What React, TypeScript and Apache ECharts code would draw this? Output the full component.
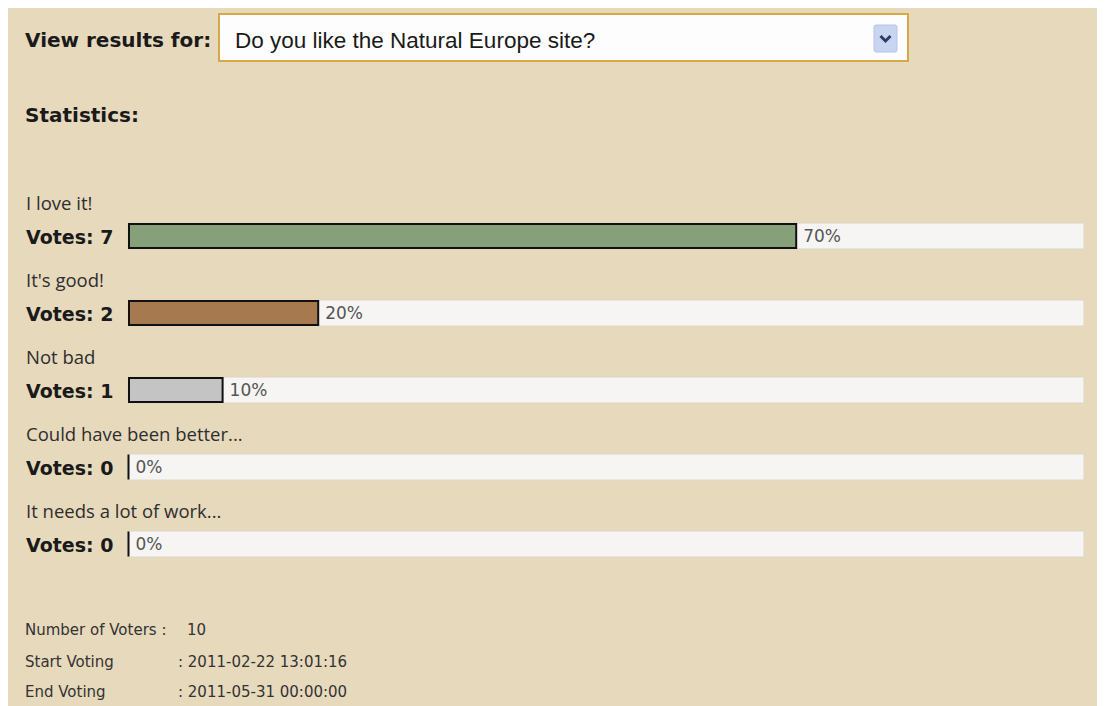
import React, { useEffect, useRef } from "react";
import * as echarts from "echarts";

const answers = ["I love it!", "It's good!", "Not bad", "Could have been better...", "It needs a lot of work..."];
const votes = [7, 2, 1, 0, 0];
const percents = [70, 20, 10, 0, 0];
const barColors = ["#86a079", "#a67a4e", "#c4c4c4", "#c4c4c4", "#c4c4c4"];
const question = "Do you like the Natural Europe site?";
const voterCount = 10;
const startVoting = "2011-02-22 13:01:16";
const endVoting = "2011-05-31 00:00:00";

const BG = "#e7d9bc";

export default function App() {
  const ref = useRef<HTMLDivElement>(null);
  useEffect(() => {
    document.documentElement.style.overflow = "hidden";
    document.body.style.overflow = "hidden";
    const chart = echarts.init(ref.current!, null, { renderer: "svg" });
    const bold = "DejaVu Sans";
    chart.setOption({
      animation: false,
      backgroundColor: BG,
      grid: { left: 120, right: 21, top: 189.5, height: 385 },
      xAxis: { type: "value", min: 0, max: 100, show: false },
      yAxis: {
        type: "category",
        data: answers,
        inverse: true,
        show: false,
      },
      series: [
        {
          type: "bar",
          data: percents.map((v, i) => ({ value: v, itemStyle: { color: barColors[i] } })),
          barWidth: 26,
          barMinHeight: 1,
          showBackground: true,
          backgroundStyle: { color: "#f6f5f3", borderColor: "#dcd6c8", borderWidth: 1 },
          itemStyle: { borderColor: "#111", borderWidth: 2 },
          label: {
            show: true,
            position: "right",
            distance: 6,
            formatter: "{c}%",
            color: "#555",
            fontSize: 17,
            fontFamily: "DejaVu Sans",
          },
        },
      ],
    });
    const graphics: any[] = [
      {
        type: "text",
        x: 17,
        y: 32,
        style: { text: "View results for:", font: `bold 20px '${bold}'`, fill: "#1a1a1a", verticalAlign: "middle" },
      },
      {
        type: "rect",
        shape: { x: 211, y: 6, width: 689, height: 47 },
        style: { fill: "#fdfdfd", stroke: "#d8a848", lineWidth: 2 },
      },
      {
        type: "text",
        x: 227,
        y: 32,
        style: {
          text: question,
          font: "22.5px 'Liberation Sans'",
          fill: "#1a1a1a",
          verticalAlign: "middle",
        },
      },
      {
        type: "rect",
        shape: { x: 866, y: 17, width: 23, height: 27, r: 2 },
        style: { fill: "#c8d5f1", stroke: "#b6c4e6", lineWidth: 1 },
      },
      {
        type: "polyline",
        shape: { points: [[872.5, 28], [877.5, 33], [882.5, 28]] },
        style: { stroke: "#2c3c63", lineWidth: 3, fill: null },
      },
      {
        type: "text",
        x: 17,
        y: 107,
        style: { text: "Statistics:", font: `bold 20px '${bold}'`, fill: "#1a1a1a", verticalAlign: "middle" },
      },
    ];
    answers.forEach((name, i) => {
      const y = chart.convertToPixel({ yAxisIndex: 0 }, i) as number;
      graphics.push({
        type: "text",
        x: 18,
        y: y - 34,
        style: { text: name, font: "18.5px 'Open Sans'", fill: "#2e2e2e", verticalAlign: "middle" },
      });
      graphics.push({
        type: "text",
        x: 18,
        y: y + 1,
        style: { text: `Votes: ${votes[i]}`, font: `bold 19px '${bold}'`, fill: "#1a1a1a", verticalAlign: "middle" },
      });
    });
    const footer = [
      ["Number of Voters :", `${voterCount}`, 622, 179],
      ["Start Voting", `: ${startVoting}`, 654, 170],
      ["End Voting", `: ${endVoting}`, 684, 170],
    ] as const;
    footer.forEach(([k, v, y, vx]) => {
      graphics.push({
        type: "text",
        x: 17,
        y,
        style: { text: k, font: "15px 'DejaVu Sans'", fill: "#333", verticalAlign: "middle" },
      });
      graphics.push({
        type: "text",
        x: vx,
        y,
        style: { text: v, font: "15px 'DejaVu Sans'", fill: "#333", verticalAlign: "middle" },
      });
    });
    chart.setOption({ graphic: graphics });
    return () => chart.dispose();
  }, []);
  return <div ref={ref} style={{ width: 1097, height: 698 }} />;
}
